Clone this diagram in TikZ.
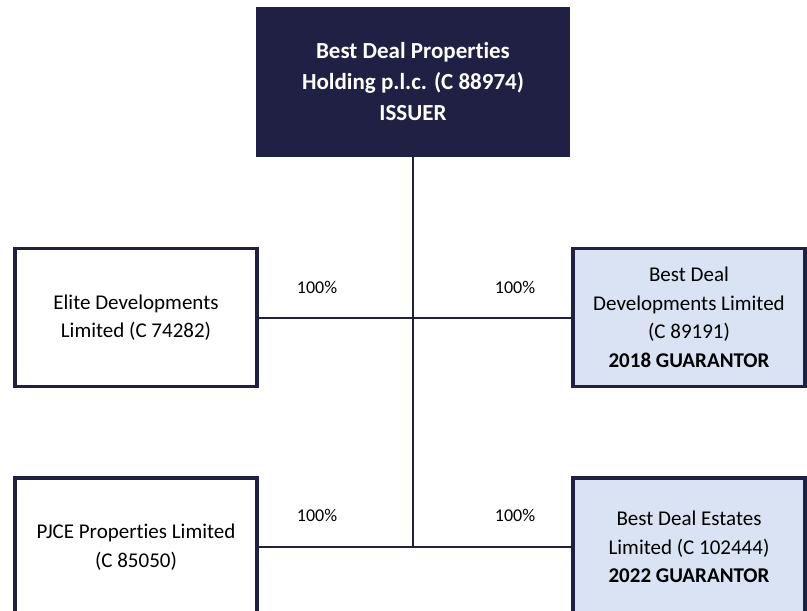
\documentclass[tikz,border=0pt]{standalone}
\usepackage{fontspec}
\setmainfont{Carlito}[Ligatures=NoCommon]
\definecolor{navy}{HTML}{1F2044}
\definecolor{lightblue}{HTML}{DAE3F3}
\tikzset{
  entity/.style={draw=navy, line width=3.5pt, minimum width=242pt, minimum height=138pt,
    align=center, inner sep=0pt, text=black, font=\fontsize{21}{28.5}\selectfont},
  guarantor/.style={entity, fill=lightblue, minimum width=232pt},
  plain/.style={entity, fill=white},
  issuerbox/.style={fill=navy, minimum width=314pt, minimum height=150pt, align=center,
    inner sep=0pt, text=white, font=\bfseries\fontsize{23}{31}\selectfont},
  link/.style={draw=navy, line width=2pt},
  pct/.style={font=\fontsize{18}{20}\selectfont, inner sep=0pt}
}
\begin{document}
\begin{tikzpicture}[x=1pt,y=-1pt]
\useasboundingbox (0,0) rectangle (807,611);
\fill[white] (0,0) rectangle (807,611);
\node[issuerbox] (issuer) at (413,82) {Best Deal Properties\\Holding p.l.c. (C 88974)\\ISSUER};
\node[plain] (elite) at (136,317.5) {Elite Developments\\Limited (C 74282)};
\node[guarantor] (bdd) at (689,317.5) {Best Deal\\Developments Limited\\(C 89191)\\\textbf{2018 GUARANTOR}};
\node[plain] (pjce) at (136,547) {PJCE Properties Limited\\(C 85050)};
\node[guarantor] (bde) at (689,547) {Best Deal Estates\\Limited (C 102444)\\\textbf{2022 GUARANTOR}};
\coordinate (jb) at (issuer.south |- pjce.east);
\draw[link] (issuer.south) -- (jb);
\draw[link] (elite.east) -- (bdd.west);
\draw[link] (pjce.east) -- (bde.west);
\node[pct] (p1) at (317,287) {100\%};
\node[pct] (p2) at (515,287) {100\%};
\node[pct] (p3) at (317,515) {100\%};
\node[pct] (p4) at (515,515) {100\%};
\end{tikzpicture}
\end{document}
